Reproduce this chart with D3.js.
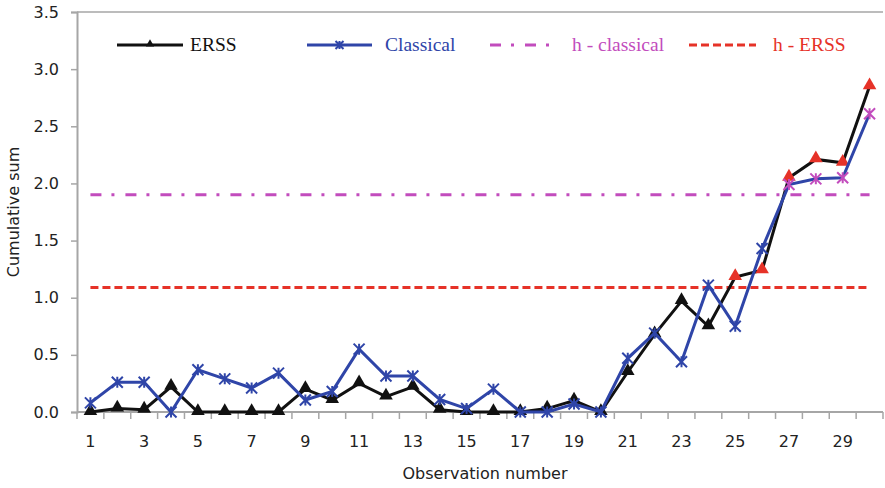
<!DOCTYPE html>
<html>
<head>
<meta charset="utf-8">
<script src="https://cdn.jsdelivr.net/npm/d3@7"></script>
<style>
  body { margin: 0; background: #fff; }
  svg { display: block; }
</style>
</head>
<body>
<svg id="chart" width="885" height="488"></svg>
<script>
// observation numbers 1..30
const observations = d3.range(1, 31);

const erss = [0.0, 0.03, 0.02, 0.22, 0.0, 0.0, 0.0, 0.0, 0.2, 0.105,
  0.25, 0.135, 0.22, 0.02, 0.0, 0.0, 0.0, 0.03, 0.1, 0.0,
  0.35, 0.68, 0.97, 0.75, 1.18, 1.24, 2.05, 2.21, 2.18, 2.85];

const classical = [0.08, 0.26, 0.26, 0.0, 0.37, 0.29, 0.21, 0.34, 0.105, 0.18,
  0.55, 0.315, 0.315, 0.11, 0.03, 0.2, 0.0, 0.0, 0.07, 0.0,
  0.47, 0.69, 0.44, 1.11, 0.75, 1.43, 1.99, 2.04, 2.05, 2.61];

const hClassical = 1.9;
const hErss = 1.09;

const yTicks = [0, 0.5, 1, 1.5, 2, 2.5, 3, 3.5];

const colors = {
  erss: "#111111",
  classical: "#2f45a8",
  hClassical: "#c24cbd",
  hErss: "#e63228",
  axis: "#a6a6a6"
};

const svg = d3.select("#chart");
const margin = { left: 77, right: 2, top: 12, bottom: 76 };
const width = 885, height = 488;

const x = d3.scaleBand()
  .domain(observations)
  .range([margin.left, width - margin.right]);
const cx = (d) => x(d) + x.bandwidth() / 2;

const y = d3.scaleLinear()
  .domain([0, 3.5])
  .range([height - margin.bottom, margin.top]);

const sans = "'DejaVu Sans', Verdana, sans-serif";
const serif = "'Liberation Serif', 'DejaVu Serif', serif";

// top border
svg.append("line")
  .attr("x1", margin.left).attr("x2", width - margin.right)
  .attr("y1", y(3.5)).attr("y2", y(3.5))
  .attr("stroke", colors.axis).attr("stroke-width", 1.5);

// y axis
const yAxis = svg.append("g")
  .attr("transform", `translate(${margin.left},0)`)
  .call(d3.axisLeft(y).tickValues(yTicks).tickFormat(d3.format(".1f")).tickSize(6).tickPadding(12));
yAxis.select(".domain").attr("stroke", colors.axis).attr("stroke-width", 2);
yAxis.selectAll(".tick line").attr("stroke", colors.axis).attr("stroke-width", 1.5);
yAxis.selectAll("text").attr("font-family", sans).attr("font-size", 16).attr("fill", "#222");

// x axis: ticks at category boundaries, labels on odd numbers
const xg = svg.append("g").attr("transform", `translate(0,${y(0)})`);
xg.append("line")
  .attr("x1", margin.left).attr("x2", width - margin.right)
  .attr("stroke", colors.axis).attr("stroke-width", 2);
xg.selectAll(".xt")
  .data(observations.concat([31]))
  .join("line")
  .attr("class", "xt")
  .attr("x1", (d) => d <= 30 ? x(d) : x(30) + x.bandwidth())
  .attr("x2", (d) => d <= 30 ? x(d) : x(30) + x.bandwidth())
  .attr("y1", 0).attr("y2", 7)
  .attr("stroke", colors.axis).attr("stroke-width", 1.5);
xg.selectAll(".xl")
  .data(observations.filter((d) => d % 2 === 1))
  .join("text")
  .attr("class", "xl")
  .attr("x", cx)
  .attr("y", 35)
  .attr("text-anchor", "middle")
  .attr("font-family", sans).attr("font-size", 16).attr("fill", "#222")
  .text((d) => d);

// axis titles
svg.append("text")
  .attr("x", 485).attr("y", 479)
  .attr("text-anchor", "middle")
  .attr("font-family", sans).attr("font-size", 16).attr("fill", "#222")
  .text("Observation number");
svg.append("text")
  .attr("transform", `translate(19,${(y(0) + y(3.5)) / 2}) rotate(-90)`)
  .attr("text-anchor", "middle")
  .attr("font-family", sans).attr("font-size", 16).attr("fill", "#222")
  .text("Cumulative  sum");

// threshold lines
svg.append("line")
  .attr("x1", cx(1)).attr("x2", cx(30))
  .attr("y1", y(hClassical)).attr("y2", y(hClassical))
  .attr("stroke", colors.hClassical).attr("stroke-width", 3)
  .attr("stroke-dasharray", "11,10,3,11");
svg.append("line")
  .attr("x1", cx(1)).attr("x2", cx(30))
  .attr("y1", y(hErss)).attr("y2", y(hErss))
  .attr("stroke", colors.hErss).attr("stroke-width", 3)
  .attr("stroke-dasharray", "8,4");

const line = d3.line().x((d, i) => cx(observations[i])).y((d) => y(d));

const triangle = d3.symbol().type(d3.symbolTriangle).size(80);

function star(g, s) {
  g.append("path")
    .attr("d", `M${-s},${-s}L${s},${s}M${-s},${s}L${s},${-s}M0,${-s}L0,${s}`)
    .attr("fill", "none").attr("stroke-width", 2);
}

// ERSS series
svg.append("path")
  .datum(erss)
  .attr("d", line)
  .attr("fill", "none").attr("stroke", colors.erss).attr("stroke-width", 3);
svg.selectAll(".erss-pt")
  .data(erss)
  .join("path")
  .attr("class", "erss-pt")
  .attr("d", triangle)
  .attr("transform", (d, i) => `translate(${cx(observations[i])},${y(d) - 1})`)
  .attr("fill", (d) => d > hErss ? colors.hErss : colors.erss);

// Classical series
svg.append("path")
  .datum(classical)
  .attr("d", line)
  .attr("fill", "none").attr("stroke", colors.classical).attr("stroke-width", 3);
svg.selectAll(".cl-pt")
  .data(classical)
  .join("g")
  .attr("class", "cl-pt")
  .attr("transform", (d, i) => `translate(${cx(observations[i])},${y(d)})`)
  .attr("stroke", (d) => d > hClassical ? colors.hClassical : colors.classical)
  .each(function () { star(d3.select(this), 5.5); });

// legend
const legend = svg.append("g").attr("font-family", serif).attr("font-size", 19.5);
const ly = 45;
const items = [
  { x1: 117, x2: 183, tx: 190, label: "ERSS", color: colors.erss, text: "#111", kind: "tri" },
  { x1: 307, x2: 372, tx: 385, label: "Classical", color: colors.classical, text: colors.classical, kind: "star" },
  { x1: 490, x2: 552, tx: 572, label: "h - classical", color: colors.hClassical, text: colors.hClassical, kind: "dashdot" },
  { x1: 689, x2: 756, tx: 773, label: "h - ERSS", color: colors.hErss, text: colors.hErss, kind: "dash" }
];
items.forEach((it) => {
  const l = legend.append("line")
    .attr("x1", it.x1).attr("x2", it.x2).attr("y1", ly).attr("y2", ly)
    .attr("stroke", it.color).attr("stroke-width", 3);
  if (it.kind === "dashdot") l.attr("stroke-dasharray", "11,10,3,11");
  if (it.kind === "dash") l.attr("stroke-dasharray", "8,4");
  const mx = (it.x1 + it.x2) / 2;
  if (it.kind === "tri") {
    legend.append("path").attr("d", d3.symbol().type(d3.symbolTriangle).size(30))
      .attr("transform", `translate(${mx},${ly - 1})`).attr("fill", it.color);
  }
  if (it.kind === "star") {
    const g = legend.append("g").attr("transform", `translate(${mx},${ly})`).attr("stroke", it.color);
    star(g, 4);
  }
  legend.append("text")
    .attr("x", it.tx).attr("y", ly + 6)
    .attr("fill", it.text)
    .text(it.label);
});
</script>
</body>
</html>
